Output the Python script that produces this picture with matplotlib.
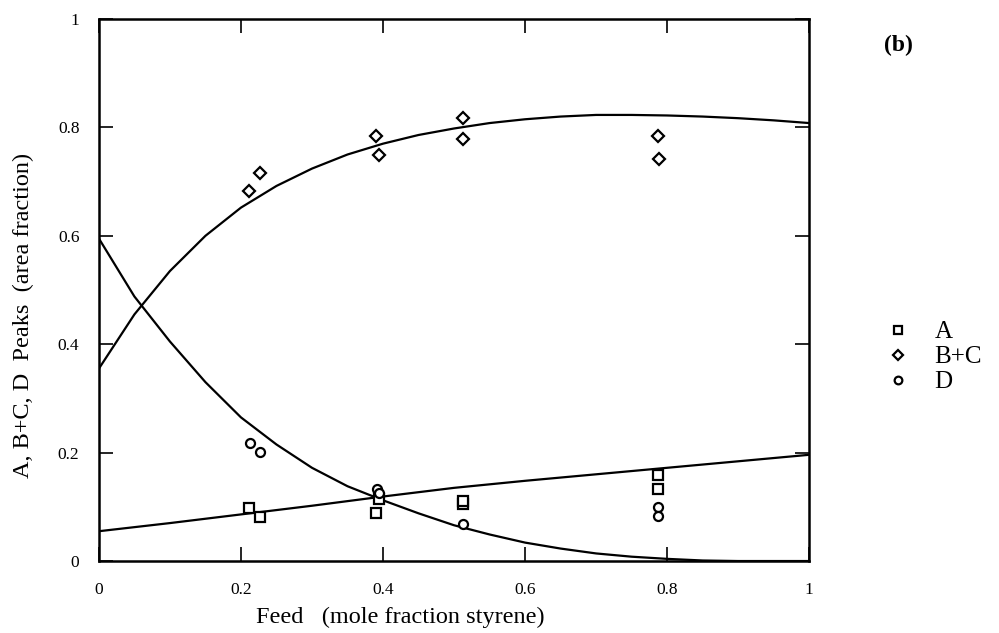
import numpy as np
import matplotlib
matplotlib.use("Agg")
import matplotlib.pyplot as plt
from matplotlib.ticker import FuncFormatter

plt.rcParams['font.family'] = ['Liberation Serif', 'DejaVu Serif']

a_x = [0.211, 0.227, 0.390, 0.394, 0.513, 0.513, 0.787, 0.787]
a_y = [0.098, 0.081, 0.088, 0.115, 0.105, 0.111, 0.159, 0.133]

bc_x = [0.211, 0.227, 0.390, 0.394, 0.513, 0.513, 0.787, 0.789]
bc_y = [0.683, 0.716, 0.784, 0.749, 0.817, 0.779, 0.784, 0.742]

d_x = [0.213, 0.227, 0.392, 0.394, 0.513, 0.787, 0.787]
d_y = [0.218, 0.201, 0.133, 0.125, 0.068, 0.100, 0.083]

# fitted curves
curve_x = [0.0, 0.05, 0.1, 0.15, 0.2, 0.25, 0.3, 0.35, 0.4, 0.45, 0.5,
           0.55, 0.6, 0.65, 0.7, 0.75, 0.8, 0.85, 0.9, 0.95, 1.0]
bc_fit = [0.355, 0.455, 0.535, 0.600, 0.652, 0.692, 0.724, 0.750, 0.770, 0.786, 0.798,
          0.808, 0.815, 0.820, 0.823, 0.823, 0.822, 0.820, 0.817, 0.813, 0.808]
d_fit = [0.595, 0.488, 0.405, 0.330, 0.265, 0.215, 0.172, 0.138, 0.112, 0.088, 0.066,
         0.049, 0.034, 0.023, 0.014, 0.008, 0.004, 0.001, 0.0, 0.0, 0.0]

a_fit_x = [0.0, 0.1, 0.2, 0.3, 0.4, 0.5, 0.6, 0.7, 0.8, 0.9, 1.0]
a_fit = [0.055, 0.070, 0.086, 0.102, 0.119, 0.135, 0.148, 0.160, 0.172, 0.184, 0.196]

fig = plt.figure(figsize=(9.99, 6.33), dpi=100)
ax = fig.add_axes([0.099, 0.1137, 0.711, 0.8563])

lw = 1.6
ax.plot(curve_x, bc_fit, color='black', lw=lw)
ax.plot(curve_x, d_fit, color='black', lw=lw)
ax.plot(a_fit_x, a_fit, color='black', lw=lw)

mk = dict(linestyle='none', markerfacecolor='white', markeredgecolor='black',
          markeredgewidth=1.6, markersize=6.5)
ax.plot(a_x, a_y, marker='s', label='A', **mk)
ax.plot(bc_x, bc_y, marker='D', label='B+C', **{**mk, 'markersize': 6})
ax.plot(d_x, d_y, marker='o', label='D', **mk)

ax.set_xlim(0, 1)
ax.set_ylim(0, 1)
ticks = [0, 0.2, 0.4, 0.6, 0.8, 1]
ax.set_xticks(ticks)
ax.set_yticks(ticks)
fmt = FuncFormatter(lambda v, p: '%g' % v)
ax.xaxis.set_major_formatter(fmt)
ax.yaxis.set_major_formatter(fmt)
ax.tick_params(direction='in', top=True, right=True, length=10, width=1.2,
               labelsize=12.5)
ax.tick_params(axis='x', pad=15)
ax.tick_params(axis='y', pad=14)
for s in ax.spines.values():
    s.set_linewidth(1.8)

# labels sit a bit off-centre in the original
ax.set_xlabel('Feed   (mole fraction styrene)', fontsize=17.5)
ax.xaxis.set_label_coords(0.425, -0.084)
ax.set_ylabel('A, B+C, D  Peaks  (area fraction)', fontsize=17.5)
ax.yaxis.set_label_coords(-0.092, 0.454)

ax.legend(loc='center left', bbox_to_anchor=(0.874, 0.436), bbox_transform=fig.transFigure,
          frameon=False, fontsize=18, handlelength=1.0, handletextpad=0.95,
          labelspacing=0.1, borderpad=0, markerscale=0.85)

fig.text(0.899, 0.928, '(b)', fontsize=17, fontweight='bold', ha='center', va='center')

fig.savefig('out.png', dpi=100)
